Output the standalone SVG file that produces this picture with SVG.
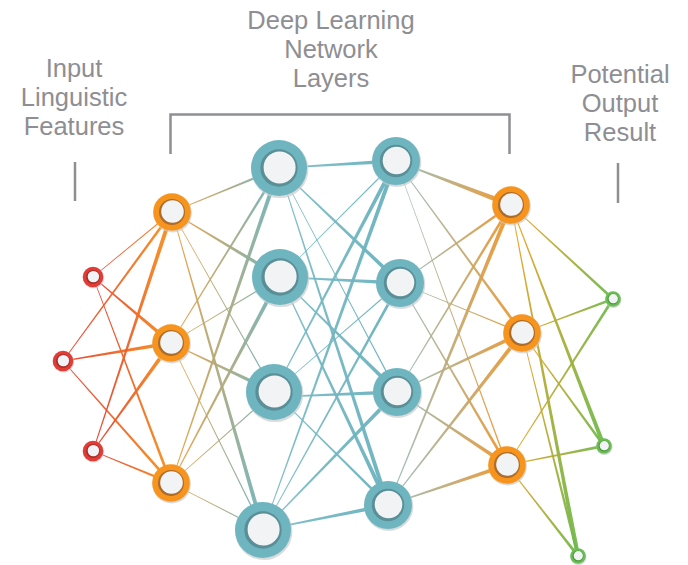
<svg xmlns="http://www.w3.org/2000/svg" xmlns:xlink="http://www.w3.org/1999/xlink" width="688" height="565" viewBox="0 0 688 565">
  <style>
    .label { font-family: "Liberation Sans", Arial, sans-serif; font-size: 25.5px; fill: #8e8e93; text-anchor: middle; }
    .guide { fill: none; stroke: #8e8e93; stroke-width: 2.5; }
    .edges use { opacity: 0.95; }
  </style>
  <defs>
    <!-- edge colour ramps, source end on the left of each local edge frame -->
    <linearGradient id="gRO" x1="0" y1="0" x2="1" y2="0"><stop offset="0" stop-color="#e5392c"/><stop offset="1" stop-color="#f7941d"/></linearGradient>
    <linearGradient id="gOT" x1="0" y1="0" x2="1" y2="0"><stop offset="0" stop-color="#efa03e"/><stop offset="1" stop-color="#6db4bf"/></linearGradient>
    <linearGradient id="gTT" x1="0" y1="0" x2="1" y2="0"><stop offset="0" stop-color="#7dbcc6"/><stop offset="1" stop-color="#68b1bd"/></linearGradient>
    <linearGradient id="gTO" x1="0" y1="0" x2="1" y2="0"><stop offset="0" stop-color="#93bfc2"/><stop offset="1" stop-color="#f0962a"/></linearGradient>
    <linearGradient id="gOG" x1="0" y1="0" x2="1" y2="0"><stop offset="0" stop-color="#f0a020"/><stop offset="1" stop-color="#6cbb4e"/></linearGradient>

    <!-- tapered edge shapes in a unit frame: x 0..1 from source to target, y in pixels -->
    <polygon id="w1" points="0,-0.3 1,-0.7 1,0.7 0,0.3"/>
    <polygon id="w2" points="0,-0.35 1,-1.45 1,1.45 0,0.35"/>
    <polygon id="w3" points="0,-0.4 1,-2.1 1,2.1 0,0.4"/>
    <polygon id="w4" points="0,-0.45 1,-2.6 1,2.6 0,0.45"/>

    <!-- node styles -->
    <g id="nRed">
      <circle r="10.6" cx="0.5" cy="1" fill="#c9cccf" opacity="0.7"/>
      <circle r="10.3" fill="#e23c36"/>
      <circle r="7" fill="#a8302c"/>
      <circle r="5.7" cx="0.4" cy="-0.4" fill="#f2f3f5"/>
    </g>
    <g id="nOrange">
      <circle r="19.2" cx="0.7" cy="1.3" fill="#c9cccf" opacity="0.7"/>
      <circle r="18.8" fill="#f7941d"/>
      <circle r="13" fill="#ad6c2c"/>
      <circle r="11.3" cx="0.5" cy="-0.5" fill="#f2f3f5"/>
    </g>
    <g id="nTealL">
      <circle r="28.6" cx="0.8" cy="1.5" fill="#c9cccf" opacity="0.7"/>
      <circle r="28" fill="#6eb5c0"/>
      <circle r="18.7" fill="#5b8f97"/>
      <circle r="16" cx="0.6" cy="-0.6" fill="#f2f3f5"/>
    </g>
    <g id="nTealM">
      <circle r="24.5" cx="0.8" cy="1.4" fill="#c9cccf" opacity="0.7"/>
      <circle r="24" fill="#6eb5c0"/>
      <circle r="16.2" fill="#5b8f97"/>
      <circle r="13.8" cx="0.5" cy="-0.5" fill="#f2f3f5"/>
    </g>
    <g id="nGreen">
      <circle r="8.1" cx="0.4" cy="0.9" fill="#c9cccf" opacity="0.7"/>
      <circle r="7.8" fill="#6cbd55"/>
      <circle r="5.5" fill="#4e9a3e"/>
      <circle r="4.6" cx="0.3" cy="-0.3" fill="#f2f3f5"/>
    </g>
  </defs>

  <rect width="688" height="565" fill="#ffffff"/>

  <!-- headings -->
  <g id="labels">
    <text class="label" x="74" y="77">Input</text>
    <text class="label" x="74" y="106">Linguistic</text>
    <text class="label" x="74" y="135">Features</text>
    <text class="label" x="331" y="29">Deep Learning</text>
    <text class="label" x="331" y="58">Network</text>
    <text class="label" x="331" y="87">Layers</text>
    <text class="label" x="620" y="82.5">Potential</text>
    <text class="label" x="620" y="111.5">Output</text>
    <text class="label" x="620" y="140.5">Result</text>
  </g>

  <!-- bracket over the hidden layers and the two side ticks -->
  <g id="guides">
    <path class="guide" d="M170.5,154 V114.5 H509.5 V154"/>
    <path class="guide" d="M75,162 V201"/>
    <path class="guide" d="M618,163 V203"/>
  </g>

  <g id="connectors" class="edges">
    <!-- input -> hidden 1 -->
    <g fill="url(#gRO)">
      <use href="#w1" transform="matrix(79 -65 0.635 0.772 93 277)"/>
      <use href="#w3" transform="matrix(78 66 -0.646 0.763 93 277)"/>
      <use href="#w2" transform="matrix(78 206 -0.935 0.354 93 277)"/>
      <use href="#w2" transform="matrix(109 -149 0.807 0.590 63 361)"/>
      <use href="#w3" transform="matrix(108 -18 0.164 0.986 63 361)"/>
      <use href="#w2" transform="matrix(108 122 -0.749 0.663 63 361)"/>
      <use href="#w3" transform="matrix(79 -239 0.950 0.314 93 451)"/>
      <use href="#w3" transform="matrix(78 -108 0.811 0.586 93 451)"/>
      <use href="#w2" transform="matrix(78 32 -0.380 0.925 93 451)"/>
    </g>
    <!-- hidden 1 -> hidden 2 -->
    <g fill="url(#gOT)">
      <use href="#w2" transform="matrix(107 -44 0.380 0.925 172 212)"/>
      <use href="#w3" transform="matrix(108 65 -0.515 0.857 172 212)"/>
      <use href="#w1" transform="matrix(102 180 -0.870 0.493 172 212)"/>
      <use href="#w3" transform="matrix(91 318 -0.961 0.275 172 212)"/>
      <use href="#w2" transform="matrix(108 -175 0.851 0.525 171 343)"/>
      <use href="#w1" transform="matrix(109 -66 0.518 0.856 171 343)"/>
      <use href="#w3" transform="matrix(103 49 -0.429 0.903 171 343)"/>
      <use href="#w1" transform="matrix(92 187 -0.897 0.441 171 343)"/>
      <use href="#w3" transform="matrix(108 -315 0.946 0.324 171 483)"/>
      <use href="#w3" transform="matrix(109 -206 0.884 0.468 171 483)"/>
      <use href="#w1" transform="matrix(103 -91 0.662 0.750 171 483)"/>
      <use href="#w1" transform="matrix(92 47 -0.455 0.891 171 483)"/>
    </g>
    <!-- hidden 2 -> hidden 3 -->
    <g fill="url(#gTT)">
      <use href="#w3" transform="matrix(117 -7 0.060 0.998 279 168)"/>
      <use href="#w3" transform="matrix(121 115 -0.689 0.725 279 168)"/>
      <use href="#w1" transform="matrix(118 224 -0.885 0.466 279 168)"/>
      <use href="#w3" transform="matrix(109 337 -0.951 0.308 279 168)"/>
      <use href="#w1" transform="matrix(116 -116 0.707 0.707 280 277)"/>
      <use href="#w3" transform="matrix(120 6 -0.050 0.999 280 277)"/>
      <use href="#w3" transform="matrix(117 115 -0.701 0.713 280 277)"/>
      <use href="#w3" transform="matrix(108 228 -0.904 0.428 280 277)"/>
      <use href="#w3" transform="matrix(122 -231 0.884 0.467 274 392)"/>
      <use href="#w1" transform="matrix(126 -109 0.654 0.756 274 392)"/>
      <use href="#w3" transform="matrix(123 -5 0.041 0.999 274 397)"/>
      <use href="#w2" transform="matrix(114 113 -0.704 0.710 274 392)"/>
      <use href="#w3" transform="matrix(133 -369 0.941 0.339 263 530)"/>
      <use href="#w2" transform="matrix(137 -247 0.875 0.485 263 530)"/>
      <use href="#w3" transform="matrix(134 -138 0.717 0.696 263 530)"/>
      <use href="#w3" transform="matrix(125 -25 0.196 0.980 263 530)"/>
    </g>
    <!-- hidden 3 -> hidden 4 -->
    <g fill="url(#gTO)">
      <use href="#w4" transform="matrix(115 44 -0.357 0.934 396 161)"/>
      <use href="#w2" transform="matrix(126 172 -0.807 0.591 396 161)"/>
      <use href="#w1" transform="matrix(111 304 -0.939 0.343 396 161)"/>
      <use href="#w2" transform="matrix(111 -78 0.575 0.818 400 283)"/>
      <use href="#w1" transform="matrix(122 50 -0.379 0.926 400 283)"/>
      <use href="#w2" transform="matrix(107 182 -0.862 0.507 400 283)"/>
      <use href="#w2" transform="matrix(114 -187 0.854 0.521 397 392)"/>
      <use href="#w3" transform="matrix(125 -59 0.427 0.904 397 392)"/>
      <use href="#w3" transform="matrix(110 73 -0.553 0.833 397 392)"/>
      <use href="#w3" transform="matrix(123 -300 0.925 0.379 388 505)"/>
      <use href="#w3" transform="matrix(134 -172 0.789 0.615 388 505)"/>
      <use href="#w3" transform="matrix(119 -40 0.319 0.948 388 505)"/>
    </g>
    <!-- hidden 4 -> output -->
    <g fill="url(#gOG)">
      <use href="#w2" transform="matrix(102 94 -0.678 0.735 511 205)"/>
      <use href="#w3" transform="matrix(93 241 -0.933 0.360 511 205)"/>
      <use href="#w3" transform="matrix(67 351 -0.982 0.188 511 205)"/>
      <use href="#w2" transform="matrix(91 -34 0.350 0.937 522 333)"/>
      <use href="#w2" transform="matrix(82 113 -0.809 0.587 522 333)"/>
      <use href="#w2" transform="matrix(56 223 -0.970 0.244 522 333)"/>
      <use href="#w2" transform="matrix(106 -166 0.843 0.538 507 465)"/>
      <use href="#w2" transform="matrix(97 -19 0.192 0.982 507 465)"/>
      <use href="#w2" transform="matrix(71 91 -0.789 0.615 507 465)"/>
    </g>
  </g>

  <!-- input layer -->
  <g id="in-1" transform="translate(93,277)"><use href="#nRed"/></g>
  <g id="in-2" transform="translate(63,361)"><use href="#nRed"/></g>
  <g id="in-3" transform="translate(93,451)"><use href="#nRed"/></g>
  <!-- hidden layer 1 -->
  <g id="h1-1" transform="translate(172,212)"><use href="#nOrange"/></g>
  <g id="h1-2" transform="translate(171,343)"><use href="#nOrange"/></g>
  <g id="h1-3" transform="translate(171,483)"><use href="#nOrange"/></g>
  <!-- hidden layer 2 -->
  <g id="h2-1" transform="translate(279,168)"><use href="#nTealL"/></g>
  <g id="h2-2" transform="translate(280,277)"><use href="#nTealL"/></g>
  <g id="h2-3" transform="translate(274,392)"><use href="#nTealL"/></g>
  <g id="h2-4" transform="translate(263,530)"><use href="#nTealL"/></g>
  <!-- hidden layer 3 -->
  <g id="h3-1" transform="translate(396,161)"><use href="#nTealM"/></g>
  <g id="h3-2" transform="translate(400,283)"><use href="#nTealM"/></g>
  <g id="h3-3" transform="translate(397,392)"><use href="#nTealM"/></g>
  <g id="h3-4" transform="translate(388,505)"><use href="#nTealM"/></g>
  <!-- hidden layer 4 -->
  <g id="h4-1" transform="translate(511,205)"><use href="#nOrange"/></g>
  <g id="h4-2" transform="translate(522,333)"><use href="#nOrange"/></g>
  <g id="h4-3" transform="translate(507,465)"><use href="#nOrange"/></g>
  <!-- output layer -->
  <g id="out-1" transform="translate(613,299)"><use href="#nGreen"/></g>
  <g id="out-2" transform="translate(604,446)"><use href="#nGreen"/></g>
  <g id="out-3" transform="translate(578,556)"><use href="#nGreen"/></g>
</svg>
